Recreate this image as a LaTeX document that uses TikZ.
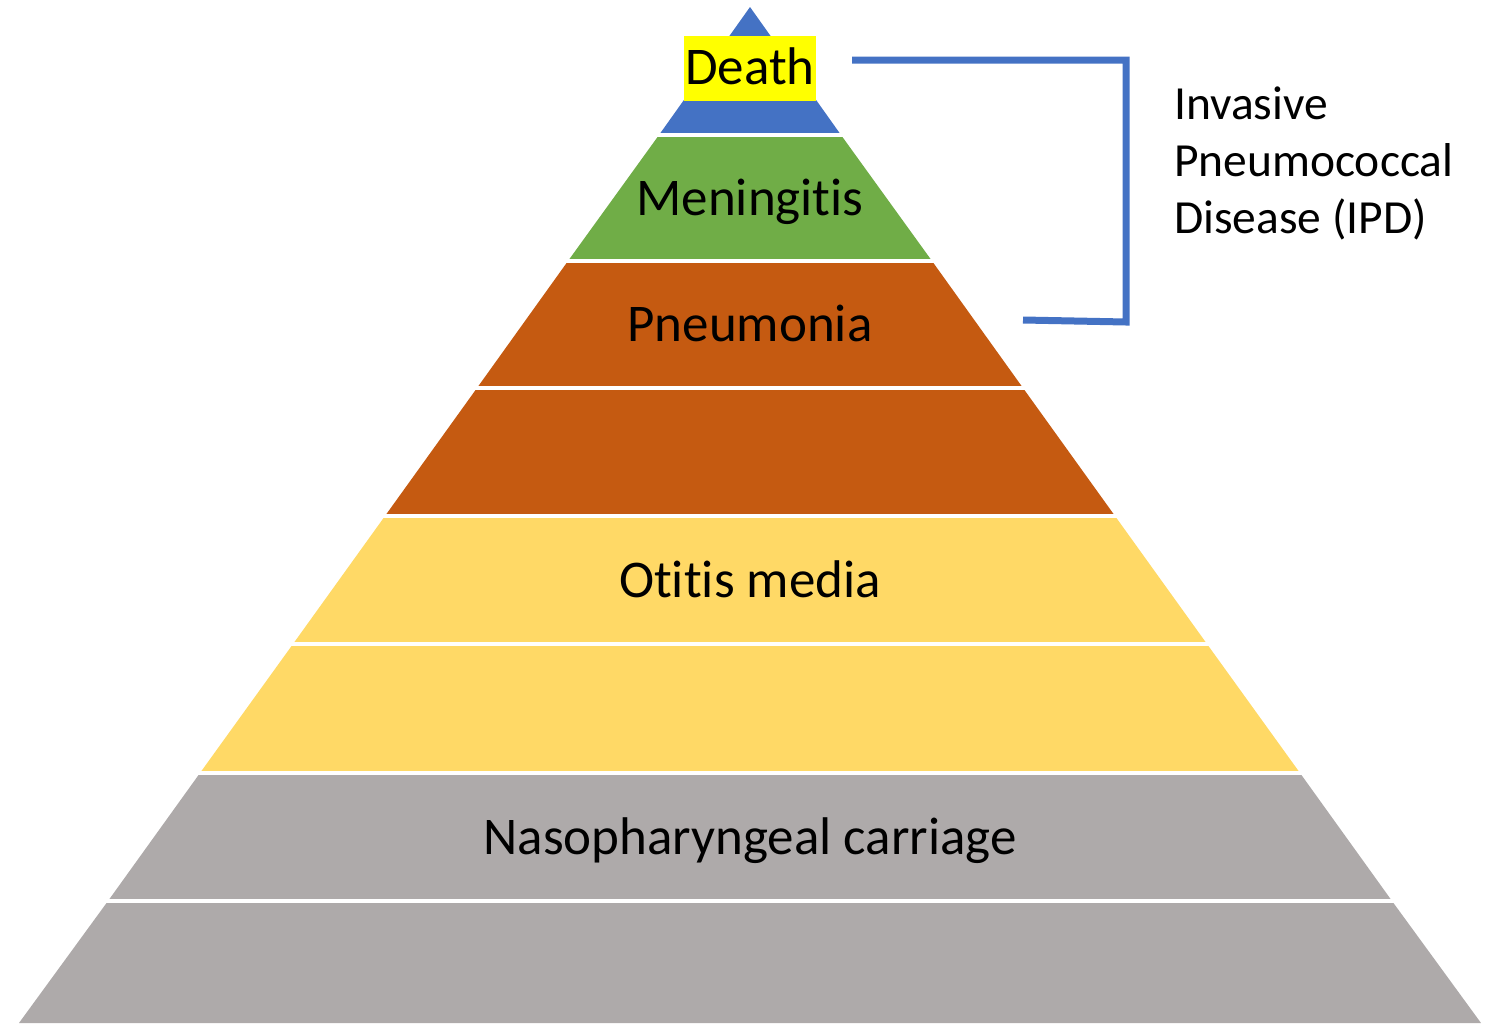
\documentclass[tikz,border=0pt]{standalone}
\usepackage{fontspec}
\setmainfont{Carlito}[Ligatures=NoCommon]
\definecolor{pyblue}{HTML}{4472C4}
\definecolor{pygreen}{HTML}{70AD47}
\definecolor{pyorange}{HTML}{C55A11}
\definecolor{pyyellow}{HTML}{FFD966}
\definecolor{pygray}{HTML}{AEAAAA}
\definecolor{hilite}{HTML}{FFFF00}
\begin{document}
\begin{tikzpicture}[x=1pt,y=-1pt,
  gap/.style={draw=white, line width=3.5pt},
  lbl/.style={anchor=base, inner sep=0pt, font=\fontsize{53}{64}\selectfont, text=black},
  side/.style={anchor=north west, inner sep=0pt, align=left, font=\fontsize{47.5}{57}\selectfont, text=black},
  bracket/.style={draw=pyblue, line width=7pt, line join=miter}]
\useasboundingbox (0,0) rectangle (1491,1023);
% layers (apex at (750,8), base half-width 730 at y=1023)
\fill[pygray] (108,901) -- (1392,901) -- (1481,1023) -- (19,1023) -- cycle;
\fill[pygray] (200,773) -- (1300,773) -- (1392,901) -- (108,901) -- cycle;
\fill[pyyellow] (293,644) -- (1207,644) -- (1300,773) -- (200,773) -- cycle;
\fill[pyyellow] (385,516) -- (1115,516) -- (1207,644) -- (293,644) -- cycle;
\fill[pyorange] (477,388) -- (1023,388) -- (1115,516) -- (385,516) -- cycle;
\fill[pyorange] (568,261) -- (932,261) -- (1023,388) -- (477,388) -- cycle;
\fill[pygreen] (659,135) -- (841,135) -- (932,261) -- (568,261) -- cycle;
\fill[pyblue] (750,7) -- (841,135) -- (659,135) -- cycle;
% white separators
\foreach \yy/\xl/\xr in {135/655/845, 261/564/936, 388/473/1027, 516/381/1119, 644/289/1211, 773/196/1304, 901/104/1396}
  \draw[gap] (\xl,\yy) -- (\xr,\yy);
% labels
\node[lbl, fill=hilite, minimum width=132pt, text height=48pt, text depth=17pt] (death) at (750,84) {Death};
\node[lbl] (men) at (750,215) {Meningitis};
\node[lbl] (pneu) at (750,341) {Pneumonia};
\node[lbl] (oti) at (750,597) {Otitis media};
\node[lbl] (naso) at (750,854) {Nasopharyngeal carriage};
\node[side] (ipd) at (1174,87) {Invasive\\Pneumococcal\\Disease (IPD)};
% bracket
\coordinate (b1) at (852,60);
\coordinate (b2) at (1126,60);
\coordinate (b3) at (1126,322);
\coordinate (b4) at (1023,320);
\draw[bracket] (b1) -- (b2) -- (b3) -- (b4);
\end{tikzpicture}
\end{document}
